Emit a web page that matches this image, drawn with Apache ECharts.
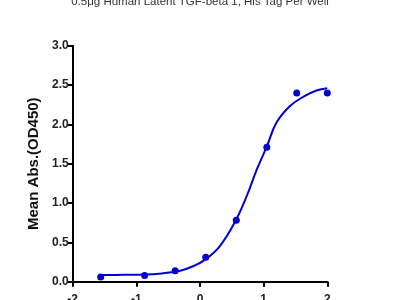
<!DOCTYPE html>
<html>
<head>
<meta charset="utf-8">
<script src="https://cdn.jsdelivr.net/npm/echarts@6/dist/echarts.min.js"></script>
<style>
  html, body { margin: 0; padding: 0; background: #fff; }
  #chart { width: 400px; height: 300px; }
</style>
</head>
<body>
<div id="chart"></div>
<script>
// measured points, log10 concentration vs mean OD450
var pointX = [-1.56, -0.87, -0.39, 0.09, 0.57, 1.05, 1.52, 2.0];
var pointY = [0.06, 0.08, 0.14, 0.31, 0.78, 1.71, 2.40, 2.40];

// fitted curve
var curveX = [-1.56, -1.2, -0.87, -0.6, -0.31, -0.1, 0.08, 0.31, 0.55, 0.73, 0.89, 1.05, 1.20, 1.41, 1.62, 1.83, 2.0];
var curveY = [0.085, 0.087, 0.09, 0.105, 0.14, 0.2, 0.28, 0.45, 0.76, 1.08, 1.42, 1.72, 2.02, 2.23, 2.35, 2.43, 2.46];

var xTicks = [-2, -1, 0, 1, 2];

var chartTitle = '0.5\u03bcg Human Latent TGF-beta 1, His Tag Per Well';
var yName = 'Mean Abs.(OD450)';

function pairs(xs, ys) {
    var out = [];
    for (var i = 0; i < xs.length; i++) {
        out.push([xs[i], ys[i]]);
    }
    return out;
}

var blue = '#0000cc';
var font = 'Liberation Sans, Arial, sans-serif';

var chart = echarts.init(document.getElementById('chart'), null, { renderer: 'canvas' });
chart.setOption({
    animation: false,
    title: {
        text: chartTitle,
        left: 'center',
        top: -9,
        textStyle: { fontFamily: font, fontSize: 11.5, fontWeight: 'normal', color: '#333' }
    },
    grid: {
        left: 72.7, right: 72.7, top: 45.7, bottom: 18.3,
        containLabel: false,
        outerBoundsMode: 'none'
    },
    xAxis: {
        type: 'value',
        min: -2, max: 2, interval: 1,
        splitLine: { show: false },
        axisLine: { onZero: false, lineStyle: { color: '#000', width: 2 } },
        axisTick: { inside: false, length: 5, lineStyle: { color: '#000', width: 2 } },
        axisLabel: {
            margin: 12,
            fontFamily: font, fontSize: 12, fontWeight: 'bold', color: '#222',
            formatter: function (v) { return xTicks.indexOf(v) >= 0 ? String(v) : ''; }
        }
    },
    yAxis: {
        type: 'value',
        min: 0, max: 3, interval: 0.5,
        name: yName,
        nameLocation: 'middle',
        nameGap: 19,
        nameTextStyle: { fontFamily: font, fontSize: 15, fontWeight: 'bold', color: '#111' },
        splitLine: { show: false },
        axisLine: { show: true, onZero: false, lineStyle: { color: '#000', width: 2 } },
        axisTick: { show: true, inside: false, length: 5, lineStyle: { color: '#000', width: 2 } },
        axisLabel: {
            margin: 4,
            fontFamily: font, fontSize: 12, fontWeight: 'bold', color: '#222',
            formatter: function (v) { return v.toFixed(1); }
        }
    },
    series: [
        {
            type: 'line',
            data: pairs(curveX, curveY),
            smooth: 0.4,
            showSymbol: false,
            lineStyle: { color: blue, width: 2 },
            z: 2
        },
        {
            type: 'scatter',
            data: pairs(pointX, pointY),
            symbol: 'circle',
            symbolSize: 7,
            itemStyle: { color: blue, opacity: 1 },
            z: 3
        }
    ]
});
</script>
</body>
</html>
